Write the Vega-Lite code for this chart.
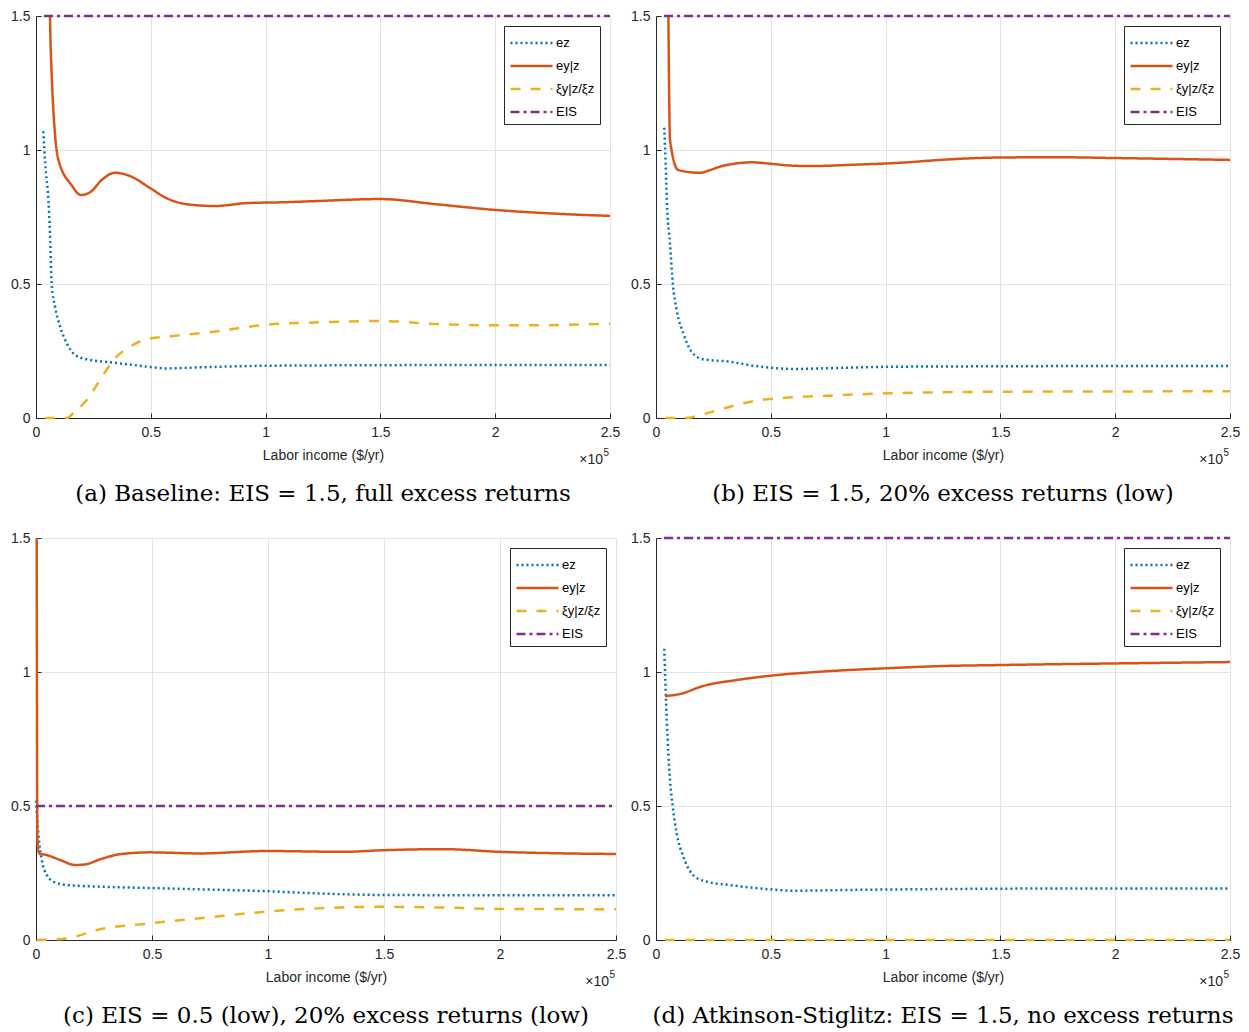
{
  "$schema": "https://vega.github.io/schema/vega-lite/v6.json",
  "padding": {"left": 10, "top": 9, "right": 0, "bottom": 0},
  "background": "white",
  "datasets": {
    "a": [
      {"x": 3200, "y": 1.07, "s": "ez"}, {"x": 4000, "y": 0.95, "s": "ez"}, {"x": 5400, "y": 0.813, "s": "ez"}, {"x": 6100, "y": 0.689, "s": "ez"}, {"x": 6800, "y": 0.503, "s": "ez"}, {"x": 8300, "y": 0.415, "s": "ez"}, {"x": 10500, "y": 0.341, "s": "ez"}, {"x": 13400, "y": 0.279, "s": "ez"}, {"x": 17000, "y": 0.235, "s": "ez"}, {"x": 22100, "y": 0.219, "s": "ez"}, {"x": 32200, "y": 0.208, "s": "ez"}, {"x": 42400, "y": 0.198, "s": "ez"}, {"x": 50000, "y": 0.19, "s": "ez"}, {"x": 56900, "y": 0.185, "s": "ez"}, {"x": 71400, "y": 0.189, "s": "ez"}, {"x": 100500, "y": 0.195, "s": "ez"}, {"x": 150000, "y": 0.197, "s": "ez"}, {"x": 200000, "y": 0.198, "s": "ez"}, {"x": 250000, "y": 0.198, "s": "ez"},
      {"x": 6100, "y": 1.5, "s": "ey|z"}, {"x": 6400, "y": 1.38, "s": "ey|z"}, {"x": 9700, "y": 0.966, "s": "ey|z"}, {"x": 15500, "y": 0.869, "s": "ey|z"}, {"x": 19600, "y": 0.832, "s": "ey|z"}, {"x": 23800, "y": 0.844, "s": "ey|z"}, {"x": 28600, "y": 0.888, "s": "ey|z"}, {"x": 34400, "y": 0.915, "s": "ey|z"}, {"x": 40900, "y": 0.903, "s": "ey|z"}, {"x": 49700, "y": 0.858, "s": "ey|z"}, {"x": 56900, "y": 0.82, "s": "ey|z"}, {"x": 66300, "y": 0.797, "s": "ey|z"}, {"x": 78000, "y": 0.791, "s": "ey|z"}, {"x": 91800, "y": 0.802, "s": "ey|z"}, {"x": 107700, "y": 0.805, "s": "ey|z"}, {"x": 123700, "y": 0.81, "s": "ey|z"}, {"x": 149800, "y": 0.817, "s": "ey|z"}, {"x": 175000, "y": 0.797, "s": "ey|z"}, {"x": 200600, "y": 0.776, "s": "ey|z"}, {"x": 225000, "y": 0.763, "s": "ey|z"}, {"x": 250000, "y": 0.754, "s": "ey|z"},
      {"x": 3900, "y": 0, "s": "ξy|z/ξz"}, {"x": 13400, "y": 0, "s": "ξy|z/ξz"}, {"x": 17000, "y": 0.024, "s": "ξy|z/ξz"}, {"x": 22100, "y": 0.067, "s": "ξy|z/ξz"}, {"x": 27900, "y": 0.142, "s": "ξy|z/ξz"}, {"x": 33700, "y": 0.216, "s": "ξy|z/ξz"}, {"x": 40900, "y": 0.266, "s": "ξy|z/ξz"}, {"x": 48200, "y": 0.294, "s": "ξy|z/ξz"}, {"x": 59800, "y": 0.306, "s": "ξy|z/ξz"}, {"x": 77200, "y": 0.322, "s": "ξy|z/ξz"}, {"x": 99000, "y": 0.347, "s": "ξy|z/ξz"}, {"x": 123700, "y": 0.357, "s": "ξy|z/ξz"}, {"x": 149800, "y": 0.362, "s": "ξy|z/ξz"}, {"x": 176000, "y": 0.35, "s": "ξy|z/ξz"}, {"x": 200600, "y": 0.346, "s": "ξy|z/ξz"}, {"x": 216500, "y": 0.346, "s": "ξy|z/ξz"}, {"x": 250000, "y": 0.352, "s": "ξy|z/ξz"},
      {"x": 3500, "y": 1.5, "s": "EIS"}, {"x": 250000, "y": 1.5, "s": "EIS"}
    ],
    "b": [
      {"x": 3600, "y": 1.083, "s": "ez"}, {"x": 4200, "y": 0.95, "s": "ez"}, {"x": 4700, "y": 0.813, "s": "ez"}, {"x": 6100, "y": 0.652, "s": "ez"}, {"x": 7300, "y": 0.503, "s": "ez"}, {"x": 9000, "y": 0.403, "s": "ez"}, {"x": 11900, "y": 0.316, "s": "ez"}, {"x": 15500, "y": 0.247, "s": "ez"}, {"x": 20600, "y": 0.219, "s": "ez"}, {"x": 32200, "y": 0.21, "s": "ez"}, {"x": 42400, "y": 0.195, "s": "ez"}, {"x": 49700, "y": 0.188, "s": "ez"}, {"x": 59800, "y": 0.183, "s": "ez"}, {"x": 71400, "y": 0.185, "s": "ez"}, {"x": 100500, "y": 0.191, "s": "ez"}, {"x": 150000, "y": 0.193, "s": "ez"}, {"x": 200000, "y": 0.194, "s": "ez"}, {"x": 250000, "y": 0.194, "s": "ez"},
      {"x": 5400, "y": 1.5, "s": "ey|z"}, {"x": 6100, "y": 1.037, "s": "ey|z"}, {"x": 9700, "y": 0.925, "s": "ey|z"}, {"x": 19200, "y": 0.915, "s": "ey|z"}, {"x": 23500, "y": 0.925, "s": "ey|z"}, {"x": 27900, "y": 0.938, "s": "ey|z"}, {"x": 35100, "y": 0.95, "s": "ey|z"}, {"x": 41700, "y": 0.954, "s": "ey|z"}, {"x": 49700, "y": 0.949, "s": "ey|z"}, {"x": 56900, "y": 0.943, "s": "ey|z"}, {"x": 67100, "y": 0.94, "s": "ey|z"}, {"x": 85900, "y": 0.945, "s": "ey|z"}, {"x": 107700, "y": 0.953, "s": "ey|z"}, {"x": 123700, "y": 0.963, "s": "ey|z"}, {"x": 150000, "y": 0.972, "s": "ey|z"}, {"x": 175000, "y": 0.973, "s": "ey|z"}, {"x": 200000, "y": 0.97, "s": "ey|z"}, {"x": 250000, "y": 0.963, "s": "ey|z"},
      {"x": 4000, "y": 0, "s": "ξy|z/ξz"}, {"x": 13400, "y": 0, "s": "ξy|z/ξz"}, {"x": 17700, "y": 0.007, "s": "ξy|z/ξz"}, {"x": 27900, "y": 0.032, "s": "ξy|z/ξz"}, {"x": 42400, "y": 0.063, "s": "ξy|z/ξz"}, {"x": 52600, "y": 0.073, "s": "ξy|z/ξz"}, {"x": 71400, "y": 0.082, "s": "ξy|z/ξz"}, {"x": 100500, "y": 0.092, "s": "ξy|z/ξz"}, {"x": 123700, "y": 0.096, "s": "ξy|z/ξz"}, {"x": 150000, "y": 0.098, "s": "ξy|z/ξz"}, {"x": 200000, "y": 0.099, "s": "ξy|z/ξz"}, {"x": 250000, "y": 0.1, "s": "ξy|z/ξz"},
      {"x": 3500, "y": 1.5, "s": "EIS"}, {"x": 250000, "y": 1.5, "s": "EIS"}
    ],
    "c": [
      {"x": 0, "y": 0.52, "s": "ez"}, {"x": 1000, "y": 0.398, "s": "ez"}, {"x": 2500, "y": 0.299, "s": "ez"}, {"x": 4600, "y": 0.243, "s": "ez"}, {"x": 7500, "y": 0.218, "s": "ez"}, {"x": 13200, "y": 0.205, "s": "ez"}, {"x": 27600, "y": 0.199, "s": "ez"}, {"x": 49100, "y": 0.194, "s": "ez"}, {"x": 70700, "y": 0.189, "s": "ez"}, {"x": 99400, "y": 0.182, "s": "ez"}, {"x": 121000, "y": 0.174, "s": "ez"}, {"x": 149700, "y": 0.168, "s": "ez"}, {"x": 200000, "y": 0.167, "s": "ez"}, {"x": 250000, "y": 0.167, "s": "ez"},
      {"x": 300, "y": 1.5, "s": "ey|z"}, {"x": 600, "y": 0.373, "s": "ey|z"}, {"x": 1400, "y": 0.323, "s": "ey|z"}, {"x": 4600, "y": 0.317, "s": "ey|z"}, {"x": 10300, "y": 0.299, "s": "ey|z"}, {"x": 16800, "y": 0.28, "s": "ey|z"}, {"x": 21100, "y": 0.282, "s": "ey|z"}, {"x": 27600, "y": 0.301, "s": "ey|z"}, {"x": 36200, "y": 0.32, "s": "ey|z"}, {"x": 49100, "y": 0.327, "s": "ey|z"}, {"x": 70700, "y": 0.323, "s": "ey|z"}, {"x": 99400, "y": 0.332, "s": "ey|z"}, {"x": 132500, "y": 0.329, "s": "ey|z"}, {"x": 149700, "y": 0.335, "s": "ey|z"}, {"x": 175600, "y": 0.339, "s": "ey|z"}, {"x": 200000, "y": 0.329, "s": "ey|z"}, {"x": 228700, "y": 0.323, "s": "ey|z"}, {"x": 250000, "y": 0.321, "s": "ey|z"},
      {"x": 300, "y": 0, "s": "ξy|z/ξz"}, {"x": 13200, "y": 0.006, "s": "ξy|z/ξz"}, {"x": 27600, "y": 0.04, "s": "ξy|z/ξz"}, {"x": 49100, "y": 0.062, "s": "ξy|z/ξz"}, {"x": 70700, "y": 0.081, "s": "ξy|z/ξz"}, {"x": 99400, "y": 0.106, "s": "ξy|z/ξz"}, {"x": 121000, "y": 0.118, "s": "ξy|z/ξz"}, {"x": 149700, "y": 0.124, "s": "ξy|z/ξz"}, {"x": 175600, "y": 0.121, "s": "ξy|z/ξz"}, {"x": 200000, "y": 0.116, "s": "ξy|z/ξz"}, {"x": 250000, "y": 0.115, "s": "ξy|z/ξz"},
      {"x": 0, "y": 0.5, "s": "EIS"}, {"x": 250000, "y": 0.5, "s": "EIS"}
    ],
    "d": [
      {"x": 3600, "y": 1.087, "s": "ez"}, {"x": 4700, "y": 0.82, "s": "ez"}, {"x": 6100, "y": 0.597, "s": "ez"}, {"x": 7300, "y": 0.497, "s": "ez"}, {"x": 9000, "y": 0.398, "s": "ez"}, {"x": 11900, "y": 0.311, "s": "ez"}, {"x": 15500, "y": 0.249, "s": "ez"}, {"x": 20600, "y": 0.221, "s": "ez"}, {"x": 32200, "y": 0.205, "s": "ez"}, {"x": 49700, "y": 0.189, "s": "ez"}, {"x": 59800, "y": 0.184, "s": "ez"}, {"x": 85900, "y": 0.187, "s": "ez"}, {"x": 122200, "y": 0.19, "s": "ez"}, {"x": 175000, "y": 0.192, "s": "ez"}, {"x": 250000, "y": 0.192, "s": "ez"},
      {"x": 3900, "y": 0.91, "s": "ey|z"}, {"x": 10500, "y": 0.918, "s": "ey|z"}, {"x": 20600, "y": 0.948, "s": "ey|z"}, {"x": 35100, "y": 0.97, "s": "ey|z"}, {"x": 49700, "y": 0.986, "s": "ey|z"}, {"x": 71400, "y": 1.001, "s": "ey|z"}, {"x": 100500, "y": 1.014, "s": "ey|z"}, {"x": 123700, "y": 1.022, "s": "ey|z"}, {"x": 150000, "y": 1.026, "s": "ey|z"}, {"x": 200000, "y": 1.032, "s": "ey|z"}, {"x": 250000, "y": 1.037, "s": "ey|z"},
      {"x": 3900, "y": 0, "s": "ξy|z/ξz"}, {"x": 250000, "y": 0, "s": "ξy|z/ξz"},
      {"x": 3500, "y": 1.5, "s": "EIS"}, {"x": 250000, "y": 1.5, "s": "EIS"}
    ],
    "exp": [{"label": "×10", "sup": "5"}]
  },
  "vconcat": [
    {
      "hconcat": [
        {
          "width": 574, "height": 402,
          "title": {"text": "(a) Baseline: EIS = 1.5, full excess returns"},
          "layer": [
            {
              "data": {"name": "a"},
              "mark": {"type": "line", "strokeWidth": 2.5, "interpolate": "monotone"},
              "encoding": {
                "x": {"field": "x", "type": "quantitative", "scale": {"domain": [0, 250000], "nice": false}, "axis": {"title": "Labor income ($/yr)", "values": [0, 50000, 100000, 150000, 200000, 250000], "labelExpr": "format(datum.value / 100000, '.1~f')"}},
                "y": {"field": "y", "type": "quantitative", "scale": {"domain": [0, 1.5], "nice": false}, "axis": {"title": null, "values": [0, 0.5, 1, 1.5], "format": ".1~f"}},
                "color": {"field": "s", "type": "nominal", "scale": {"domain": ["ez", "ey|z", "ξy|z/ξz", "EIS"], "range": ["#0072BD", "#D95319", "#EDB120", "#7E2F8E"]}, "legend": {"title": null}},
                "strokeDash": {"field": "s", "type": "nominal", "scale": {"domain": ["ez", "ey|z", "ξy|z/ξz", "EIS"], "range": [[2, 3], [1, 0], [10, 10], [9, 4, 3, 4]]}, "legend": {"title": null}}
              }
            },
            {
              "data": {"name": "exp"},
              "mark": {"type": "text", "align": "right", "baseline": "top", "dy": 35, "dx": -7, "fontSize": 14, "color": "#262626"},
              "encoding": {"text": {"field": "label"}, "x": {"datum": 250000, "type": "quantitative"}, "y": {"datum": 0, "type": "quantitative"}}
            },
            {
              "data": {"name": "exp"},
              "mark": {"type": "text", "align": "right", "baseline": "top", "dy": 30, "dx": -1, "fontSize": 10, "color": "#262626"},
              "encoding": {"text": {"field": "sup"}, "x": {"datum": 250000, "type": "quantitative"}, "y": {"datum": 0, "type": "quantitative"}}
            }
          ]
        },
        {
          "width": 574, "height": 402,
          "title": {"text": "(b) EIS = 1.5, 20% excess returns (low)"},
          "layer": [
            {
              "data": {"name": "b"},
              "mark": {"type": "line", "strokeWidth": 2.5, "interpolate": "monotone"},
              "encoding": {
                "x": {"field": "x", "type": "quantitative", "scale": {"domain": [0, 250000], "nice": false}, "axis": {"title": "Labor income ($/yr)", "values": [0, 50000, 100000, 150000, 200000, 250000], "labelExpr": "format(datum.value / 100000, '.1~f')"}},
                "y": {"field": "y", "type": "quantitative", "scale": {"domain": [0, 1.5], "nice": false}, "axis": {"title": null, "values": [0, 0.5, 1, 1.5], "format": ".1~f"}},
                "color": {"field": "s", "type": "nominal", "scale": {"domain": ["ez", "ey|z", "ξy|z/ξz", "EIS"], "range": ["#0072BD", "#D95319", "#EDB120", "#7E2F8E"]}, "legend": {"title": null}},
                "strokeDash": {"field": "s", "type": "nominal", "scale": {"domain": ["ez", "ey|z", "ξy|z/ξz", "EIS"], "range": [[2, 3], [1, 0], [10, 10], [9, 4, 3, 4]]}, "legend": {"title": null}}
              }
            },
            {
              "data": {"name": "exp"},
              "mark": {"type": "text", "align": "right", "baseline": "top", "dy": 35, "dx": -7, "fontSize": 14, "color": "#262626"},
              "encoding": {"text": {"field": "label"}, "x": {"datum": 250000, "type": "quantitative"}, "y": {"datum": 0, "type": "quantitative"}}
            },
            {
              "data": {"name": "exp"},
              "mark": {"type": "text", "align": "right", "baseline": "top", "dy": 30, "dx": -1, "fontSize": 10, "color": "#262626"},
              "encoding": {"text": {"field": "sup"}, "x": {"datum": 250000, "type": "quantitative"}, "y": {"datum": 0, "type": "quantitative"}}
            }
          ]
        }
      ],
      "spacing": 46,
      "bounds": "flush",
      "resolve": {"scale": {"color": "independent", "strokeDash": "independent"}}
    },
    {
      "hconcat": [
        {
          "width": 580, "height": 402,
          "title": {"text": "(c) EIS = 0.5 (low), 20% excess returns (low)"},
          "layer": [
            {
              "data": {"name": "c"},
              "mark": {"type": "line", "strokeWidth": 2.5, "interpolate": "monotone"},
              "encoding": {
                "x": {"field": "x", "type": "quantitative", "scale": {"domain": [0, 250000], "nice": false}, "axis": {"title": "Labor income ($/yr)", "values": [0, 50000, 100000, 150000, 200000, 250000], "labelExpr": "format(datum.value / 100000, '.1~f')"}},
                "y": {"field": "y", "type": "quantitative", "scale": {"domain": [0, 1.5], "nice": false}, "axis": {"title": null, "values": [0, 0.5, 1, 1.5], "format": ".1~f"}},
                "color": {"field": "s", "type": "nominal", "scale": {"domain": ["ez", "ey|z", "ξy|z/ξz", "EIS"], "range": ["#0072BD", "#D95319", "#EDB120", "#7E2F8E"]}, "legend": {"title": null}},
                "strokeDash": {"field": "s", "type": "nominal", "scale": {"domain": ["ez", "ey|z", "ξy|z/ξz", "EIS"], "range": [[2, 3], [1, 0], [10, 10], [9, 4, 3, 4]]}, "legend": {"title": null}}
              }
            },
            {
              "data": {"name": "exp"},
              "mark": {"type": "text", "align": "right", "baseline": "top", "dy": 35, "dx": -7, "fontSize": 14, "color": "#262626"},
              "encoding": {"text": {"field": "label"}, "x": {"datum": 250000, "type": "quantitative"}, "y": {"datum": 0, "type": "quantitative"}}
            },
            {
              "data": {"name": "exp"},
              "mark": {"type": "text", "align": "right", "baseline": "top", "dy": 30, "dx": -1, "fontSize": 10, "color": "#262626"},
              "encoding": {"text": {"field": "sup"}, "x": {"datum": 250000, "type": "quantitative"}, "y": {"datum": 0, "type": "quantitative"}}
            }
          ]
        },
        {
          "width": 574, "height": 402,
          "title": {"text": "(d) Atkinson-Stiglitz: EIS = 1.5, no excess returns"},
          "layer": [
            {
              "data": {"name": "d"},
              "mark": {"type": "line", "strokeWidth": 2.5, "interpolate": "monotone"},
              "encoding": {
                "x": {"field": "x", "type": "quantitative", "scale": {"domain": [0, 250000], "nice": false}, "axis": {"title": "Labor income ($/yr)", "values": [0, 50000, 100000, 150000, 200000, 250000], "labelExpr": "format(datum.value / 100000, '.1~f')"}},
                "y": {"field": "y", "type": "quantitative", "scale": {"domain": [0, 1.5], "nice": false}, "axis": {"title": null, "values": [0, 0.5, 1, 1.5], "format": ".1~f"}},
                "color": {"field": "s", "type": "nominal", "scale": {"domain": ["ez", "ey|z", "ξy|z/ξz", "EIS"], "range": ["#0072BD", "#D95319", "#EDB120", "#7E2F8E"]}, "legend": {"title": null}},
                "strokeDash": {"field": "s", "type": "nominal", "scale": {"domain": ["ez", "ey|z", "ξy|z/ξz", "EIS"], "range": [[2, 3], [1, 0], [10, 10], [9, 4, 3, 4]]}, "legend": {"title": null}}
              }
            },
            {
              "data": {"name": "exp"},
              "mark": {"type": "text", "align": "right", "baseline": "top", "dy": 35, "dx": -7, "fontSize": 14, "color": "#262626"},
              "encoding": {"text": {"field": "label"}, "x": {"datum": 250000, "type": "quantitative"}, "y": {"datum": 0, "type": "quantitative"}}
            },
            {
              "data": {"name": "exp"},
              "mark": {"type": "text", "align": "right", "baseline": "top", "dy": 30, "dx": -1, "fontSize": 10, "color": "#262626"},
              "encoding": {"text": {"field": "sup"}, "x": {"datum": 250000, "type": "quantitative"}, "y": {"datum": 0, "type": "quantitative"}}
            }
          ]
        }
      ],
      "spacing": 40,
      "bounds": "flush",
      "resolve": {"scale": {"color": "independent", "strokeDash": "independent"}}
    }
  ],
  "spacing": 522,
  "bounds": "flush",
  "resolve": {"scale": {"color": "independent", "strokeDash": "independent"}},
  "config": {
    "font": "Liberation Sans",
    "view": {"stroke": null},
    "axis": {
      "labelFontSize": 14, "labelColor": "#262626", "labelFont": "Liberation Sans",
      "titleFontSize": 14, "titleFontWeight": "normal", "titleColor": "#262626", "titleFont": "Liberation Sans",
      "domainColor": "#262626", "tickColor": "#262626", "tickSize": -5, "labelPadding": 12,
      "gridColor": "#e3e3e3", "grid": true, "labelFlush": false, "labelOverlap": false
    },
    "axisX": {"titlePadding": 9},
    "axisY": {"labelPadding": 11},
    "legend": {
      "orient": "top-right", "offset": 10, "strokeColor": "#262626", "fillColor": "white",
      "padding": 5, "symbolType": "M-1,0H3", "symbolSize": 441, "symbolStrokeWidth": 2.5, "labelOffset": 23,
      "labelFontSize": 13, "labelColor": "#000000", "labelFont": "Liberation Sans", "rowPadding": 4, "cornerRadius": 0
    },
    "title": {"orient": "bottom", "font": "DejaVu Serif", "fontSize": 23, "fontWeight": "normal", "color": "#000000", "offset": 16, "anchor": "middle"}
  }
}
